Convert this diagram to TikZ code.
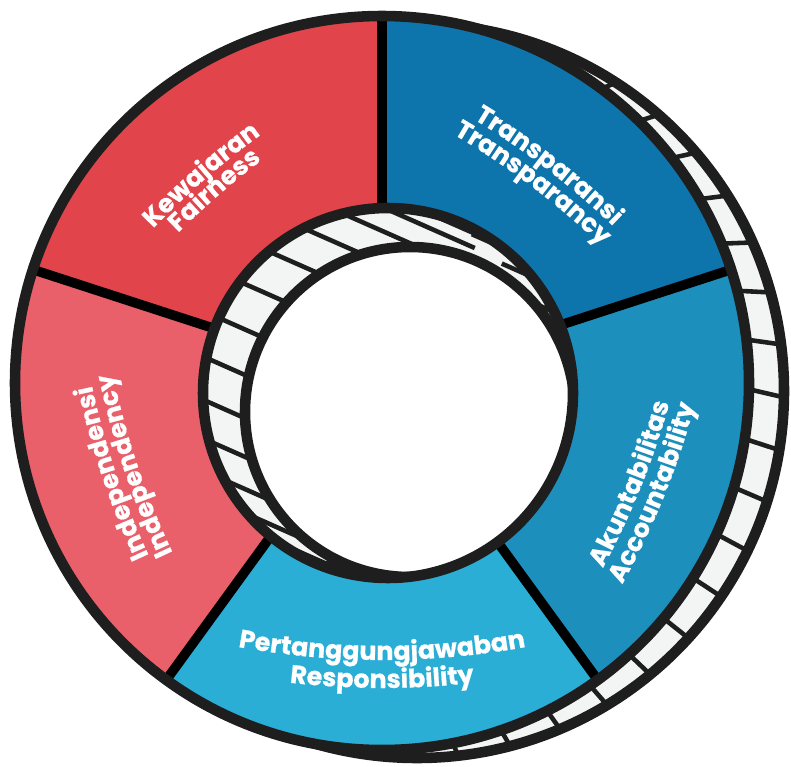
\documentclass[tikz,border=0pt]{standalone}
\usepackage{fontspec}
\usetikzlibrary{calc,decorations.text}

\newfontfamily\poppins{Poppins}[BoldFeatures={FakeBold=0.6}]
\newcommand\ringfont{\poppins\bfseries\fontsize{14.5}{17}\selectfont}

\definecolor{rimgray}{HTML}{1E1E1E}
\definecolor{sidegray}{HTML}{F3F5F5}
\definecolor{fairred}{HTML}{E1444B}
\definecolor{transblue}{HTML}{0E75AC}
\definecolor{akunblue}{HTML}{1C8FBC}
\definecolor{respblue}{HTML}{2BAED6}
\definecolor{indepred}{HTML}{E9606B}

\tikzset{
  rim/.style={draw=rimgray, line width=6pt},
  divider/.style={draw=black, line width=5.5pt},
  hatch/.style={draw=rimgray, line width=2.6pt},
  side/.style={fill=sidegray},
  ringtext/.style={decorate, decoration={text along path, text align=center,
      text color=white, text={|\ringfont|#1}}}
}

\begin{document}
\begin{tikzpicture}[x=0.02cm, y=0.02cm]
\useasboundingbox (0,0) rectangle (791,-767);

\coordinate (F) at (382,-383);   % front of the ring
\coordinate (B) at (417,-391);   % back of the ring
\coordinate (Fi) at (388,-393);  % hole, front edge
\coordinate (Bi) at (410,-412);  % hole, back edge

% outer side of the ring
\fill[side] (B) circle (367);
\begin{scope}
\clip (B) circle (367);
\foreach \a in {0,8,...,352}
  \draw[hatch] ($(F)+(\a:340)$) -- ($(B)+(\a-2:400)$);
\end{scope}
\draw[rim] (B) circle (367);

% the five parts
\fill[transblue] (F) -- ($(F)+(18:367)$) arc[start angle=18, end angle=90, radius=367] -- cycle;
\fill[fairred] (F) -- ($(F)+(90:367)$) arc[start angle=90, end angle=162, radius=367] -- cycle;
\fill[indepred] (F) -- ($(F)+(162:367)$) arc[start angle=162, end angle=234, radius=367] -- cycle;
\fill[respblue] (F) -- ($(F)+(234:367)$) arc[start angle=234, end angle=306, radius=367] -- cycle;
\fill[akunblue] (F) -- ($(F)+(306:367)$) arc[start angle=306, end angle=378, radius=367] -- cycle;

\foreach \a in {18,90,162,234,306}
  \draw[divider] (F) -- ($(F)+(\a:365)$);
\draw[rim] (F) circle (367);

% inner side of the hole
\fill[side] (Fi) circle (185);
\begin{scope}
\clip (Fi) circle (185);
\foreach \a in {0,13,...,350}
  \draw[hatch] ($(Fi)+(\a:185)+(-30,13)$) -- ($(Fi)+(\a:185)+(90,-40)$);
\fill[white] (Bi) circle (165);
\draw[rim] (Bi) circle (165);
\end{scope}
\draw[rim] (Fi) circle (185);

% labels (flat arcs, radius 800)
\path[ringtext={Kewajaran}] ($(F)+(131:-530)+(143:800)$) arc[start angle=143, end angle=119, radius=800];
\path[ringtext={Fairness}] ($(F)+(131:-551)+(143:800)$) arc[start angle=143, end angle=119, radius=800];
\path[ringtext={Transparansi}] ($(F)+(52.5:-530)+(64.5:800)$) arc[start angle=64.5, end angle=40.5, radius=800];
\path[ringtext={Transparancy}] ($(F)+(53:-553)+(65:800)$) arc[start angle=65, end angle=41, radius=800];
\path[ringtext={Independensi}] ($(F)+(198.5:-519)+(210.5:800)$) arc[start angle=210.5, end angle=186.5, radius=800];
\path[ringtext={Independency}] ($(F)+(198.5:-542)+(210.5:800)$) arc[start angle=210.5, end angle=186.5, radius=800];
\path[ringtext={Pertanggungjawaban}] ($(F)+(-90:-523)+(-102:800)$) arc[start angle=-102, end angle=-78, radius=800];
\path[ringtext={Responsibility}] ($(F)+(-90:-495)+(-102:800)$) arc[start angle=-102, end angle=-78, radius=800];
\path[ringtext={Akuntabilitas}] ($(F)+(-22:-521)+(-34:800)$) arc[start angle=-34, end angle=-10, radius=800];
\path[ringtext={Accountability}] ($(F)+(-22:-496)+(-34:800)$) arc[start angle=-34, end angle=-10, radius=800];

\end{tikzpicture}
\end{document}
